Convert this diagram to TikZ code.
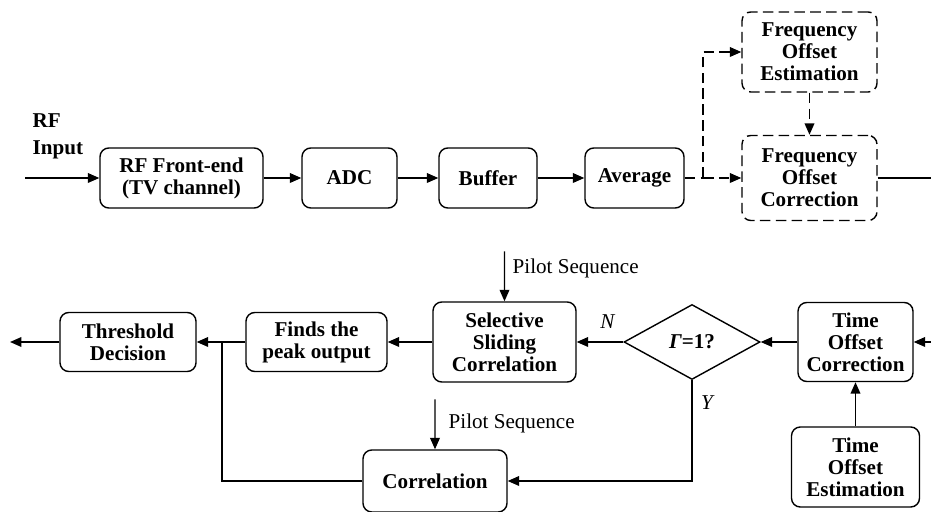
\documentclass[tikz,border=0pt]{standalone}
\usepackage{amssymb}
\usepackage{amsmath}
\usepackage{fontspec}
\setmainfont{Liberation Serif}
\usetikzlibrary{shapes.geometric,arrows.meta,positioning}

\begin{document}
\begin{tikzpicture}[scale=0.2, line width=0.8pt]
	\tikzstyle{every node}+=[inner sep=0pt, font=\fontsize{12}{12.5}\selectfont]
	\tikzstyle{block}=[draw=black, rounded corners=5pt, align=center, font=\fontsize{12}{12.5}\selectfont\bfseries, minimum height=1.2cm]
	\tikzstyle{dashblock}=[block, dash pattern=on 6pt off 3pt]
	\tikzstyle{decision}=[draw=black, diamond, font=\fontsize{12}{12.5}\selectfont\bfseries, minimum width=2.72cm, minimum height=1.5cm]
	\tikzstyle{arr}=[-{Triangle[length=6.5pt,width=5.5pt]}]
	\useasboundingbox (0,0) rectangle (93.1,-51.2);
	% upper chain: receiver front end
	\node [anchor=west, align=left, font=\fontsize{12}{15}\selectfont\bfseries] (rfin) at (3.2,-13.65) {RF\\Input};
	\node [block, minimum width=3.26cm] (rf) at (18.15,-17.8) {RF Front-end\\(TV channel)};
	\node [block, minimum width=1.9cm] (adc) at (34.95,-17.8) {ADC};
	\node [block, minimum width=1.96cm] (buf) at (48.8,-17.8) {Buffer};
	\node [block, minimum width=1.98cm] (avg) at (63.45,-17.8) {Average};
	\node [dashblock, minimum width=2.7cm, minimum height=1.6cm] (foe) at (80.95,-5.2) {Frequency\\Offset\\Estimation};
	\node [dashblock, minimum width=2.7cm, minimum height=1.7cm] (foc) at (80.95,-17.8) {Frequency\\Offset\\Correction};
	\coordinate (in) at (2.5,-17.8);
	\coordinate (split) at (70.3,-17.8);
	\coordinate (out) at (93.1,-17.8);
	\draw [arr] (in) -- (rf.west);
	\draw [arr] (rf.east) -- (adc.west);
	\draw [arr] (adc.east) -- (buf.west);
	\draw [arr] (buf.east) -- (avg.west);
	\draw [dash pattern=on 6pt off 3pt] (avg.east) -- (split);
	\draw [arr, dash pattern=on 6pt off 3pt] (split) |- (foe.west);
	\draw [arr, dash pattern=on 6pt off 3pt] (split) -- (foc.west);
	\draw [arr, dash pattern=on 6pt off 3pt] (foe.south) -- (foc.north);
	\draw (foc.east) -- (out);
	% lower chain: timing and detection
	\node [block, minimum width=2.72cm, minimum height=1.18cm] (thr) at (12.8,-34.2) {Threshold\\Decision};
	\node [block, minimum width=2.82cm, minimum height=1.18cm] (peak) at (31.65,-34.2) {Finds the\\peak output};
	\node [block, minimum width=2.86cm, minimum height=1.6cm] (ssc) at (50.45,-34.2) {Selective\\Sliding\\Correlation};
	\node [decision] (dia) at (69.2,-34.2) {\textit{Γ}=1?};
	\node [block, minimum width=2.3cm, minimum height=1.58cm] (toc) at (85.55,-34.2) {Time\\Offset\\Correction};
	\node [block, minimum width=2.56cm, minimum height=1.6cm] (toe) at (85.55,-46.7) {Time\\Offset\\Estimation};
	\node [block, minimum width=2.88cm, minimum height=1.24cm] (cor) at (43.5,-48.1) {Correlation};
	\coordinate (inB) at (93.1,-34.2);
	\coordinate (outB) at (1.0,-34.2);
	\coordinate (jn) at (22.2,-34.2);
	\coordinate [above=1cm of ssc.north] (p1);
	\coordinate [above=1cm of cor.north] (p2);
	\draw [arr] (inB) -- (toc.east);
	\draw [arr] (toe.north) -- (toc.south);
	\draw [arr] (toc.west) -- (dia.east);
	\draw [arr] (dia.west) -- (ssc.east);
	\draw [arr] (ssc.west) -- (peak.east);
	\draw [arr] (peak.west) -- (thr.east);
	\draw [arr] (thr.west) -- (outB);
	\draw [arr] (dia.south) |- (cor.east);
	\draw (cor.west) -| (jn);
	\draw [arr] (p1) -- (ssc.north);
	\draw [arr] (p2) -- (cor.north);
	\node [anchor=west] (pilotA) at (51.2,-26.8) {Pilot Sequence};
	\node [anchor=west] (pilotB) at (44.8,-42.3) {Pilot Sequence};
	\node (nlbl) at (60.8,-32.2) {\textit{N}};
	\node (ylbl) at (70.8,-40.3) {\textit{Y}};
\end{tikzpicture}
\end{document}
